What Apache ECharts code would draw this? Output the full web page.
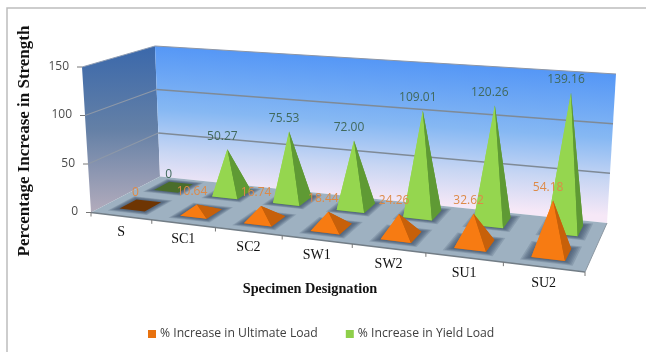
<!DOCTYPE html>
<html>
<head>
<meta charset="utf-8">
<style>html,body{margin:0;padding:0;background:#fff}#c{width:646px;height:352px}</style>
<script src="https://cdn.jsdelivr.net/npm/echarts@6/dist/echarts.min.js"></script>
</head>
<body>
<div id="c"></div>
<script>
// Strength gain per specimen
const categories = ['S', 'SC1', 'SC2', 'SW1', 'SW2', 'SU1', 'SU2'];
const ultimateLoad = [0, 10.64, 16.74, 18.44, 24.26, 32.62, 54.18];
const yieldLoad = [0, 50.27, 75.53, 72.00, 109.01, 120.26, 139.16];
const valueTicks = [0, 50, 100, 150];
const ultimateName = '% Increase in Ultimate Load';
const yieldName = '% Increase in Yield Load';
const valueTitle = 'Percentage Increase in Strength';
const categoryTitle = 'Specimen Designation';

// Camera: where the floor corners land on screen, and how the full-scale
// vertical edge at each corner rises (order: front-left, front-right, back-right, back-left)
const FLOOR_CORNERS = [[91, 212.5], [585, 272], [607, 223], [160, 176.5]];
const RISE = [[-9, 145.5], [11, 156], [9, 149], [-5, 130.5]];
const ROW_DEPTH = { ultimate: 0.27, yield: 0.77 };
const HALF_WIDTH = 0.21;  // of one category slot
const HALF_DEPTH = 0.12;  // of the floor depth
const TIP_LEAN = 0.06;    // tips sit slightly towards the viewer
const POOL_STEPS = [1.55, 1.45, 1.36, 1.27, 1.18, 1.09];  // falloff of the floor shadow

function squareToQuad(q) {
  const [[x0, y0], [x1, y1], [x2, y2], [x3, y3]] = q;
  const dx1 = x1 - x2, dx2 = x3 - x2, sx = x0 - x1 + x2 - x3;
  const dy1 = y1 - y2, dy2 = y3 - y2, sy = y0 - y1 + y2 - y3;
  const den = dx1 * dy2 - dx2 * dy1;
  const g = (sx * dy2 - dx2 * sy) / den;
  const h = (dx1 * sy - sx * dy1) / den;
  const a = x1 - x0 + g * x1, b = x3 - x0 + h * x3;
  const d = y1 - y0 + g * y1, e = y3 - y0 + h * y3;
  return (u, v) => {
    const k = g * u + h * v + 1;
    return [(a * u + b * v + x0) / k, (d * u + e * v + y0) / k];
  };
}
const floorMap = squareToQuad(FLOOR_CORNERS);

// u, w are axis fractions; v is depth into the box
function project(u, v, w) {
  const f = floorMap(u, v);
  const mix = (k) =>
    (1 - v) * ((1 - u) * RISE[0][k] + u * RISE[1][k]) + v * ((1 - u) * RISE[3][k] + u * RISE[2][k]);
  return [f[0] + mix(0) * w, f[1] - mix(1) * w];
}
function axisFractions(api, params, cat, val) {
  const p = api.coord([cat, val]);
  const cs = params.coordSys;
  return [(p[0] - cs.x) / cs.width, (cs.y + cs.height - p[1]) / cs.height];
}
const poly = (points, style) => ({ type: 'polygon', shape: { points }, style, silent: true });
const line = (a, b, stroke, lineWidth) => ({
  type: 'line', shape: { x1: a[0], y1: a[1], x2: b[0], y2: b[1] },
  style: { stroke, lineWidth }, silent: true
});
const text = (str, x, y, fill, font, align) => ({
  type: 'text', silent: true,
  style: { text: str, x, y, fill, font, align: align || 'center', verticalAlign: 'middle' }
});

const tickFont = '12px "Open Sans", sans-serif';
const catFont = '14px "Liberation Serif", serif';
const backWallFill = new echarts.graphic.LinearGradient(385, 60, 376, 201, [
  { offset: 0, color: '#5597f6' },
  { offset: 0.45, color: '#86b8f3' },
  { offset: 0.75, color: '#c8d6f3' },
  { offset: 1, color: '#f6e8f7' }
], true);
const sideWallFill = new echarts.graphic.LinearGradient(0, 0, 0, 1, [
  { offset: 0, color: '#3a68ab' },
  { offset: 0.5, color: '#6480a6' },
  { offset: 1, color: '#b3acbc' }
]);

// Walls, floor, gridlines, axis ticks and axis labels
function renderBox(params, api) {
  const n = categories.length;
  const kids = [
    poly([project(0, 0, 0), project(0, 1, 0), project(0, 1, 1), project(0, 0, 1)], { fill: sideWallFill }),
    poly([project(0, 1, 0), project(1, 1, 0), project(1, 1, 1), project(0, 1, 1)], { fill: backWallFill }),
    poly([project(0, 0, 0), project(1, 0, 0), project(1, 1, 0), project(0, 1, 0)], { fill: '#9eb1c1' }),
    line(project(0, 1, 1), project(1, 1, 1), '#8d96a6', 1.2),
    line(project(0, 0, 1), project(0, 1, 1), '#8f9db3', 1),
    line(project(0, 0, 0), project(1, 0, 0), '#727d86', 1.6),
    line(project(1, 0, 0), project(1, 1, 0), '#8c98a3', 1)
  ];
  valueTicks.forEach((t) => {
    const w = axisFractions(api, params, 0, t)[1];
    const front = project(0, 0, w), back = project(0, 1, w), right = project(1, 1, w);
    if (t > 0 && t < 150) {
      kids.push(line(front, back, '#8d98a8', 1.2));
      kids.push(line(back, right, '#7f8a96', 1.5));
    }
    kids.push(line(front, [front[0] - 5, front[1]], '#777', 1));
    kids.push(text(String(t), front[0] - 13, front[1] - 0.5, '#4c4c4c', tickFont, 'right'));
  });
  for (let i = 0; i <= n; i++) {
    const p = project(i / n, 0, 0);
    kids.push(line(p, [p[0], p[1] + 4], '#777', 1));
  }
  categories.forEach((c, i) => {
    const p = project(axisFractions(api, params, i, 0)[0], 0, 0);
    kids.push(text(c, p[0], p[1] + 16, '#111', catFont));
  });
  return { type: 'group', children: kids };
}

// One square pyramid standing on the floor, with its value above the tip
function pyramidRenderer(depth, look) {
  return function (params, api) {
    const cat = api.value(0), val = api.value(1);
    const [u, w] = axisFractions(api, params, cat, val);
    const du = api.size([1, 0])[0] * HALF_WIDTH / params.coordSys.width;
    const foot = (s) => [
      project(u - du * s, depth - HALF_DEPTH * s, 0),
      project(u + du * s, depth - HALF_DEPTH * s, 0),
      project(u + du * s, depth + HALF_DEPTH * s, 0),
      project(u - du * s, depth + HALF_DEPTH * s, 0)
    ];
    const [fl, fr, br, bl] = foot(1);
    const apex = project(u, depth - TIP_LEAN, w);
    // soft dark pool around the foot of the mark
    const kids = POOL_STEPS.map((s) => poly(foot(s), { fill: 'rgba(58,82,106,0.2)' }));
    kids.push(poly([fl, fr, br, bl], { fill: val === 0 ? look.flat : look.side }));
    if (val > 0) {
      kids.push(poly([bl, br, apex], { fill: look.side }));
      kids.push(poly([fl, bl, apex], { fill: look.face }));
      kids.push(poly([fl, fr, apex], { fill: look.face }));
      kids.push(poly([fr, br, apex], { fill: look.side }));
    }
    const tip = val > 0 ? apex : project(u, depth, 0);
    kids.push(text(val === 0 ? '0' : val.toFixed(2), tip[0] - 5, tip[1] - 13, look.label, tickFont));
    return { type: 'group', children: kids };
  };
}

const orangeLook = { face: '#f77b12', side: '#c7600a', flat: '#6e3503', label: '#dd8a48' };
const greenLook = { face: '#95d64f', side: '#5f9a34', flat: '#4a6d2b', label: '#41695c' };

const chart = echarts.init(document.getElementById('c'), null, { renderer: 'canvas' });
chart.setOption({
  animation: false,
  backgroundColor: '#fff',
  grid: { left: 40, right: 40, top: 40, bottom: 40 },
  xAxis: { type: 'category', data: categories, show: false },
  yAxis: { type: 'value', min: 0, max: 150, interval: 50, show: false },
  legend: {
    data: [ultimateName, yieldName],
    left: 143, top: 323, itemWidth: 8, itemHeight: 8, itemGap: 28, icon: 'rect',
    selectedMode: false,
    textStyle: { fontFamily: '"Open Sans", sans-serif', fontSize: 12.2, color: '#404040', padding: [0, 0, 0, -1] }
  },
  graphic: [
    { type: 'polyline', silent: true, shape: { points: [[7, 352], [7, 8], [646, 8]] },
      style: { stroke: '#bdbdbd', lineWidth: 1.5, fill: null } },
    { type: 'text', silent: true, x: 25, y: 141, rotation: Math.PI / 2,
      style: { text: valueTitle, fill: '#111', align: 'center', verticalAlign: 'middle',
        font: 'bold 17px "Liberation Serif", serif' } },
    { type: 'text', silent: true, x: 310, y: 289,
      style: { text: categoryTitle, fill: '#111', align: 'center', verticalAlign: 'middle',
        font: 'bold 14.3px "Liberation Serif", serif' } }
  ],
  series: [
    { type: 'custom', name: 'box', clip: false, silent: true, z: 1, data: [[0, 0]], renderItem: renderBox },
    { type: 'custom', name: yieldName, clip: false, silent: true, z: 2,
      itemStyle: { color: '#8ecf4a' },
      data: yieldLoad.map((v, i) => [i, v]), renderItem: pyramidRenderer(ROW_DEPTH.yield, greenLook) },
    { type: 'custom', name: ultimateName, clip: false, silent: true, z: 3,
      itemStyle: { color: '#e8720f' },
      data: ultimateLoad.map((v, i) => [i, v]), renderItem: pyramidRenderer(ROW_DEPTH.ultimate, orangeLook) }
  ]
});
</script>
</body>
</html>
